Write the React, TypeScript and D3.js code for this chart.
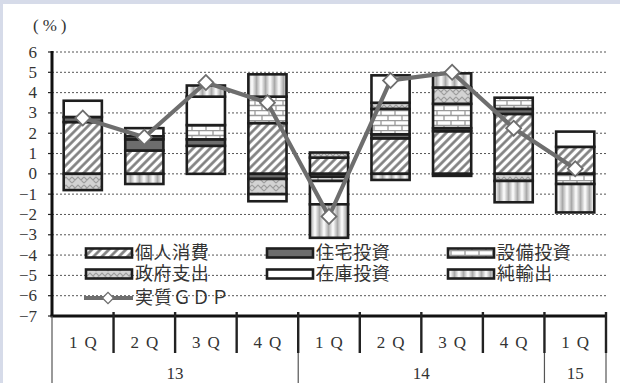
import React from "react";
import * as d3 from "d3";

const quarters = ["1Q", "2Q", "3Q", "4Q", "1Q", "2Q", "3Q", "4Q", "1Q"];
const years = ["13", "14", "15"];
const yearSpans = [4, 4, 1];
const yTicks = [6, 5, 4, 3, 2, 1, 0, -1, -2, -3, -4, -5, -6, -7];

const seriesNames = ["個人消費", "住宅投資", "設備投資", "政府支出", "在庫投資", "純輸出"];
const consumption = [2.55, 1.15, 1.38, 2.5, 0.8, 1.75, 2.1, 2.95, 1.33];
const residential = [0.25, 0.55, 0.32, -0.25, -0.15, 0.2, 0.15, 0.25, 0];
const equipment = [0, 0.15, 0.7, 1.3, -0.2, 1.25, 1.2, 0.55, -0.5];
const government = [-0.8, 0, 0, -0.75, 0.25, 0.3, 0.8, -0.35, 0];
const inventory = [0.8, 0.4, 1.4, -0.35, -1.15, 1.35, -0.1, 0, 0.75];
const netExports = [0, -0.5, 0.55, 1.1, -1.65, -0.3, 0.7, -1.05, -1.4];
const gdp = [2.75, 1.8, 4.5, 3.5, -2.1, 4.6, 5.0, 2.25, 0.25];
const gdpName = "実質ＧＤＰ";

const seriesValues = [consumption, residential, equipment, government, inventory, netExports];
const fills = ["url(#hatch)", "#6d6d6d", "url(#brick)", "url(#gov)", "#ffffff", "url(#vstripe)"];

const W = 620;
const H = 383;
const L = 52;
const R = 606;
const Y_TOP = 52;
const Y_BOT = 316;

export default function App() {
  const ids = quarters.map((_, i) => String(i));
  const y = d3.scaleLinear().domain([-7, 6]).range([Y_BOT, Y_TOP]);
  const x = d3.scaleBand<string>().domain(ids).range([L, R]).paddingInner(0.38).paddingOuter(0.19);
  const xc = d3.scaleBand<string>().domain(ids).range([L, R]).padding(0);
  const bw = x.bandwidth();

  const segs: { i: number; s: number; y0: number; y1: number }[] = [];
  ids.forEach((_, i) => {
    let pos = 0;
    let neg = 0;
    seriesValues.forEach((arr, s) => {
      const v = arr[i];
      if (v > 0) {
        segs.push({ i, s, y0: pos, y1: pos + v });
        pos += v;
      } else if (v < 0) {
        segs.push({ i, s, y0: neg + v, y1: neg });
        neg += v;
      }
    });
  });

  const line = d3
    .line<number>()
    .x((_, i) => (xc(String(i)) as number) + xc.bandwidth() / 2)
    .y((d) => y(d));
  const diamond = d3.symbol().type(d3.symbolSquare).size(112)();

  const yearBounds: { label: string; x0: number; x1: number }[] = [];
  let k = 0;
  years.forEach((yr, j) => {
    const x0 = xc(String(k)) as number;
    k += yearSpans[j];
    const x1 = k >= ids.length ? R : (xc(String(k)) as number);
    yearBounds.push({ label: yr, x0, x1 });
  });

  const legendItems = [
    { s: 0, x: 86, y: 253 },
    { s: 1, x: 267, y: 253 },
    { s: 2, x: 448, y: 253 },
    { s: 3, x: 86, y: 274 },
    { s: 4, x: 267, y: 274 },
    { s: 5, x: 448, y: 274 },
  ];

  const serif = "'Liberation Serif', 'DejaVu Serif', serif";
  const cjk = "'Noto Sans CJK JP', sans-serif";

  return (
    <svg width={W} height={H} style={{ position: "absolute", left: 0, top: 0 }}>
      <defs>
        <pattern id="hatch" width="6" height="6" patternUnits="userSpaceOnUse" patternTransform="rotate(45)">
          <rect width="6" height="6" fill="#ffffff" />
          <line x1="1.5" y1="0" x2="1.5" y2="6" stroke="#7c7c7c" strokeWidth="2.6" />
        </pattern>
        <pattern id="brick" width="14" height="10" patternUnits="userSpaceOnUse">
          <rect width="14" height="10" fill="#ffffff" />
          <path d="M0,0.5H14M0,5.5H14M3,0.5V5.5M10,5.5V10" stroke="#9a9a9a" strokeWidth="1.3" fill="none" />
        </pattern>
        <pattern id="gov" width="12" height="8" patternUnits="userSpaceOnUse">
          <rect width="12" height="8" fill="#d3d3d3" />
          <path d="M0,7L6,1L12,7M0,1L3,4M12,1L9,4" stroke="#9c9c9c" strokeWidth="1.1" fill="none" />
        </pattern>
        <linearGradient id="vgrad" x1="0" x2="1" y1="0" y2="0">
          <stop offset="0" stopColor="#ffffff" />
          <stop offset="0.5" stopColor="#a9a9a9" />
          <stop offset="1" stopColor="#ffffff" />
        </linearGradient>
        <pattern id="vstripe" width="9" height="10" patternUnits="userSpaceOnUse">
          <rect width="9" height="10" fill="url(#vgrad)" />
        </pattern>
      </defs>

      <rect x={0} y={0} width={W} height={H} fill="#d6dbe9" />
      <rect x={3} y={4} width={W - 3} height={H - 4} fill="#ffffff" />

      {yTicks
        .filter((t) => t > -7)
        .map((t) => (
          <line key={t} x1={L} x2={R} y1={y(t)} y2={y(t)} stroke="#555" strokeWidth={1} strokeDasharray="2,2" />
        ))}

      {yTicks.map((t) => (
        <g key={"yl" + t}>
          <line x1={L - 4} x2={L} y1={y(t)} y2={y(t)} stroke="#222" strokeWidth={1.2} />
          <text x={37} y={y(t) + 5.5} textAnchor="end" fontFamily={serif} fontSize={17} fill="#333">
            {t < 0 ? "−" + Math.abs(t) : String(t)}
          </text>
        </g>
      ))}
      <text x={33} y={31} fontFamily={serif} fontSize={17} fill="#333" letterSpacing={4}>
        (%)
      </text>

      {segs.map((d, j) => (
        <rect
          key={j}
          x={x(String(d.i))}
          y={y(d.y1)}
          width={bw}
          height={y(d.y0) - y(d.y1)}
          fill={fills[d.s]}
          stroke="#1e1e1e"
          strokeWidth={2.6}
        />
      ))}

      {legendItems.map((it) => (
        <g key={"lg" + it.s}>
          <rect x={it.x} y={it.y - 4.5} width={46} height={9} fill={fills[it.s]} stroke="#1e1e1e" strokeWidth={2.6} />
          <text x={it.x + 49} y={it.y + 6} fontFamily={cjk} fontSize={18} fill="#333" letterSpacing={0.6}>
            {seriesNames[it.s]}
          </text>
        </g>
      ))}
      <g>
        <line x1={84} x2={133} y1={298} y2={298} stroke="#6e6e6e" strokeWidth={4} />
        <path d={diamond as string} transform="translate(108,298) rotate(45) scale(0.75)" fill="#fff" stroke="#6e6e6e" strokeWidth={1.8} />
        <text x={135} y={304} fontFamily={cjk} fontSize={18} fill="#333" letterSpacing={1}>
          {gdpName}
        </text>
      </g>

      <path d={line(gdp) as string} fill="none" stroke="#6e6e6e" strokeWidth={4.2} strokeLinejoin="round" />
      {gdp.map((v, i) => (
        <path
          key={"dm" + i}
          d={diamond as string}
          transform={`translate(${(xc(String(i)) as number) + xc.bandwidth() / 2},${y(v)}) rotate(45)`}
          fill="#ffffff"
          stroke="#6e6e6e"
          strokeWidth={1.8}
        />
      ))}

      <line x1={L} x2={L} y1={y(6) - 1} y2={Y_BOT} stroke="#111" strokeWidth={3} />
      <line x1={L - 1.5} x2={R + 1} y1={Y_BOT} y2={Y_BOT} stroke="#111" strokeWidth={3} />

      {ids.map((id, i) =>
        i === 0 ? null : (
          <line key={"ct" + i} x1={xc(id)} x2={xc(id)} y1={Y_BOT - 4} y2={353} stroke="#222" strokeWidth={2.4} />
        )
      )}
      <line x1={R} x2={R} y1={Y_BOT - 4} y2={353} stroke="#222" strokeWidth={2.4} />
      {yearBounds.map((b, j) => (
        <g key={"yb" + j}>
          <line x1={b.x0} x2={b.x0} y1={353} y2={H} stroke="#555" strokeWidth={1.2} />
          <text x={(b.x0 + b.x1) / 2} y={379} textAnchor="middle" fontFamily={serif} fontSize={17} fill="#333">
            {b.label}
          </text>
        </g>
      ))}
      <line x1={R} x2={R} y1={353} y2={H} stroke="#555" strokeWidth={1.2} />
      <line x1={L} x2={L} y1={Y_BOT} y2={353} stroke="#555" strokeWidth={1.2} />

      {quarters.map((q, i) => (
        <text
          key={"q" + i}
          x={(xc(String(i)) as number) + xc.bandwidth() / 2 + 3.5}
          y={348}
          textAnchor="middle"
          fontFamily={serif}
          fontSize={17}
          fill="#333"
          letterSpacing={7}
        >
          {q}
        </text>
      ))}
    </svg>
  );
}
